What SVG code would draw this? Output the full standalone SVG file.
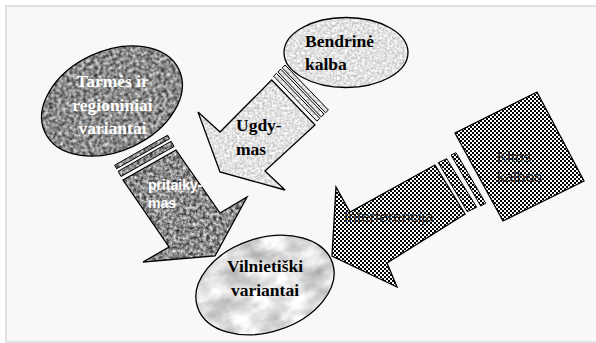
<svg xmlns="http://www.w3.org/2000/svg" width="596" height="343" viewBox="0 0 596 343">
<defs>
<filter id="fDark" x="0" y="0" width="1" height="1" color-interpolation-filters="sRGB">
<feTurbulence type="fractalNoise" baseFrequency="0.3" numOctaves="3" seed="7"/>
<feColorMatrix type="matrix" values="0 1.15 0 0 -0.03  0 1.15 0 0 -0.03  0 1.15 0 0 -0.03  0 0 0 0 1"/>
</filter>
<filter id="fLight" x="0" y="0" width="1" height="1" color-interpolation-filters="sRGB">
<feTurbulence type="fractalNoise" baseFrequency="0.4" numOctaves="3" seed="3"/>
<feColorMatrix type="matrix" values="0 0.45 0 0 0.66  0 0.45 0 0 0.66  0 0.45 0 0 0.66  0 0 0 0 1"/>
</filter>
<filter id="fMarble" x="0" y="0" width="1" height="1" color-interpolation-filters="sRGB">
<feTurbulence type="fractalNoise" baseFrequency="0.04 0.06" numOctaves="4" seed="11"/>
<feColorMatrix type="matrix" values="0 0.55 0 0 0.6  0 0.55 0 0 0.6  0 0.55 0 0 0.6  0 0 0 0 1"/>
</filter>
<pattern id="pDark" patternUnits="userSpaceOnUse" width="596" height="343"><rect width="596" height="343" filter="url(#fDark)"/></pattern>
<pattern id="pLight" patternUnits="userSpaceOnUse" width="596" height="343"><rect width="596" height="343" filter="url(#fLight)"/></pattern>
<pattern id="pMarble" patternUnits="userSpaceOnUse" width="596" height="343"><rect width="596" height="343" filter="url(#fMarble)"/></pattern>
<pattern id="pChk" patternUnits="userSpaceOnUse" width="4" height="4"><rect width="4" height="4" fill="#fff"/><path d="M0 0h2v2H0zM2 2h2v2H2z" fill="#000" shape-rendering="crispEdges"/></pattern>
<style>
.ol{stroke:#000;stroke-width:1.3;stroke-linejoin:miter}
.st{stroke:#000;stroke-width:1}
.dark{fill:url(#pDark)}
.light{fill:url(#pLight)}
.marble{fill:url(#pMarble)}
.chk{fill:url(#pChk)}
.serif{font-family:"Liberation Serif","Times New Roman",serif;font-weight:bold;font-size:17.5px}
.sans{font-family:"Liberation Sans",Arial,sans-serif;font-size:15.5px;fill:#222}
.wsans{font-family:"Liberation Sans",Arial,sans-serif;font-weight:bold;font-size:14px;fill:#fff}
</style>
</defs>
<rect x="0" y="0" width="596" height="343" fill="#fff"/>
<rect x="6" y="6" width="600" height="336" fill="#f8f8f8" stroke="#e2e2e2" stroke-width="2"/>

<g id="bendrine">
<ellipse class="light ol" cx="346" cy="52.5" rx="62" ry="35"/>
<text class="serif" x="305" y="46.5">Bendrinė</text>
<text class="serif" x="305" y="70">kalba</text>
</g>

<g id="tarmes">
<ellipse class="dark ol" cx="112" cy="101" rx="74" ry="50" transform="rotate(-25 112 101)"/>
<text class="serif" fill="#fff" text-anchor="middle" x="112.5" y="87">Tarmės ir</text>
<text class="serif" fill="#fff" text-anchor="middle" x="112.5" y="110.5">regioniniai</text>
<text class="serif" fill="#fff" text-anchor="middle" x="112.5" y="134">variantai</text>
</g>

<g id="kitos">
<polygon class="chk ol" points="537,92 584,181 503,221 455,133"/>
<text class="sans" x="497" y="162">Kitos</text>
<text class="sans" x="497" y="181.5">kalbos</text>
</g>

<g id="connectors">
<g id="ugdymas">
<polygon class="light st" points="273.58,76.12 316.88,121.12 319.77,118.35 276.47,73.35"/>
<polygon class="light st" points="277.91,71.96 321.21,116.96 324.09,114.18 280.79,69.18"/>
<polygon class="light st" points="282.24,67.8 325.54,112.8 328.42,110.02 285.12,65.02"/>
<polygon class="light ol" points="271.7,80 315,125 265,171 285,190 220,172 198,112 220,132"/>
<text class="serif" x="236" y="131">Ugdy-</text>
<text class="serif" x="236" y="155">mas</text>
</g>
<g id="pritaikymas">
<polygon class="dark st" points="121.04,176.52 174.04,146.52 171.1,141.3 118.1,171.3"/>
<polygon class="dark st" points="116.63,168.69 169.63,138.69 167.67,135.21 114.67,165.21"/>
<polygon class="dark ol" points="123,180 176,150 220,213 247,197 215,256 143,262 169,247"/>
<text class="wsans" x="148" y="190">pritaiky-</text>
<text class="wsans" x="148" y="208">mas</text>
</g>
<g id="interferencija">
<polygon class="chk st" points="438.3,162.7 446.7,158.7 476.7,207.3 467.3,211.7"/>
<polygon class="chk st" points="451,155 456,152.7 485.7,203.3 480.7,206"/>
<polygon class="chk ol" points="435,165 350,212 336,187 332,256 397,287 387,263 465,214"/>
<text class="sans" x="344" y="221.5">Interferencija</text>
</g>
</g>

<g id="vilnietiski">
<ellipse class="marble ol" cx="265" cy="285" rx="71" ry="47" transform="rotate(-18 265 285)"/>
<text class="serif" text-anchor="middle" x="265" y="271.5">Vilnietiški</text>
<text class="serif" text-anchor="middle" x="265" y="296">variantai</text>
</g>
</svg>
